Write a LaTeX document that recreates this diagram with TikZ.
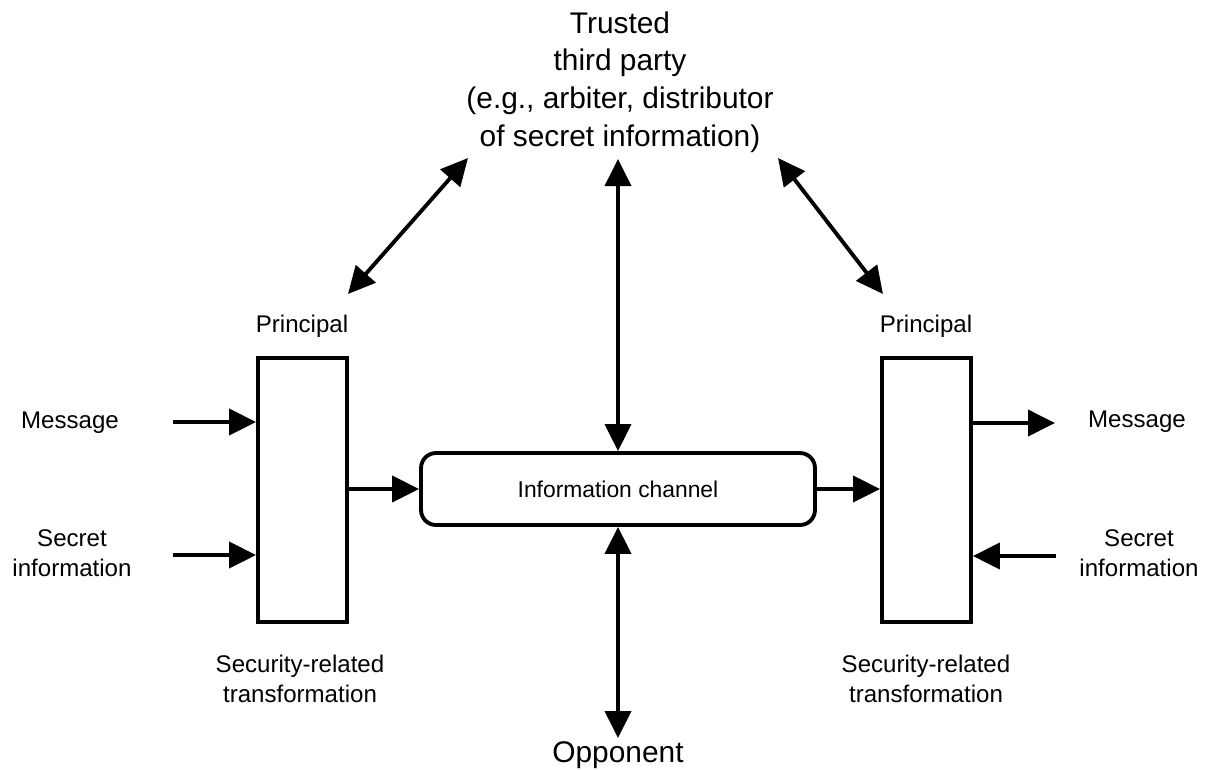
\documentclass[tikz,border=0pt]{standalone}
\usepackage{fontspec}
\setmainfont{Liberation Sans}
\usetikzlibrary{arrows.meta}
\newcommand\bigtxt{\fontsize{17}{21.5}\selectfont}
\newcommand\smalltxt{\fontsize{13.7}{17.2}\selectfont}

\begin{document}
\begin{tikzpicture}[x=0.02cm, y=-0.02cm, line width=2.2pt,
	tip/.style={-{Triangle[length=0.54cm,width=0.52cm]}},
	both/.style={{Triangle[length=0.54cm,width=0.52cm]}-{Triangle[length=0.54cm,width=0.52cm]}},
	principal/.style={draw, minimum width=1.78cm, minimum height=5.28cm, inner sep=0},
	lbl/.style={inner sep=0, align=center, font=\smalltxt}]
			%%%%% START %%%%%
			\useasboundingbox (0, 0) rectangle (1215, 769);
			
			\node[principal] (lbox) at (302.5, 490) {};
			\node[principal] (rbox) at (926.5, 490) {};
			\node[draw, rounded corners=0.3cm, minimum width=7.88cm, minimum height=1.44cm,
				font=\fontsize{13}{16}\selectfont] (chan) at (618, 489) {Information channel};
			
			\node[lbl, font=\bigtxt] (ttp) at (620, 82) {Trusted\\third party\\(e.g., arbiter, distributor\\of secret information)};
			\node[inner sep=0, font=\bigtxt, anchor=base] (opp) at (618, 762) {Opponent};
			
			\node[lbl, anchor=base] (lprin) at (302, 332) {Principal};
			\node[lbl, anchor=base] (rprin) at (926, 332) {Principal};
			\node[lbl] (ltrans) at (300, 679) {Security-related\\transformation};
			\node[lbl] (rtrans) at (926, 679) {Security-related\\transformation};
			
			\node[lbl, anchor=base] (lmsg) at (70, 428) {Message};
			\node[lbl, anchor=base] (rmsg) at (1137, 427) {Message};
			\node[lbl] (lsec) at (72, 553) {Secret\\information};
			\node[lbl] (rsec) at (1139, 553) {Secret\\information};
			
			% free ends
			\coordinate (lmsgend) at (173, 422);
			\coordinate (lsecend) at (173, 555);
			\coordinate (rmsgend) at (1055, 423);
			\coordinate (rsecend) at (1056, 556);
			\coordinate (ttpdown) at (618, 159);
			\coordinate (oppup) at (618, 738);
			\coordinate (ttpleft) at (468, 158);
			\coordinate (ttpright) at (778, 158);
			\coordinate (lboxup) at (348, 294);
			\coordinate (rboxup) at (883, 294);
			
			\draw[tip] (lmsgend) -- (lmsgend -| lbox.west);
			\draw[tip] (lsecend) -- (lsecend -| lbox.west);
			\draw[tip] (lbox.east |- chan.west) -- (chan.west);
			\draw[tip] (chan.east) -- (chan.east -| rbox.west);
			\draw[tip] (rmsgend -| rbox.east) -- (rmsgend);
			\draw[tip] (rsecend) -- (rsecend -| rbox.east);
			
			\draw[both] (ttpdown) -- (chan.north);
			\draw[both] (chan.south) -- (oppup);
			\draw[both] (lboxup) -- (ttpleft);
			\draw[both] (ttpright) -- (rboxup);
			%%%%% END %%%%%
\end{tikzpicture}
\end{document}
